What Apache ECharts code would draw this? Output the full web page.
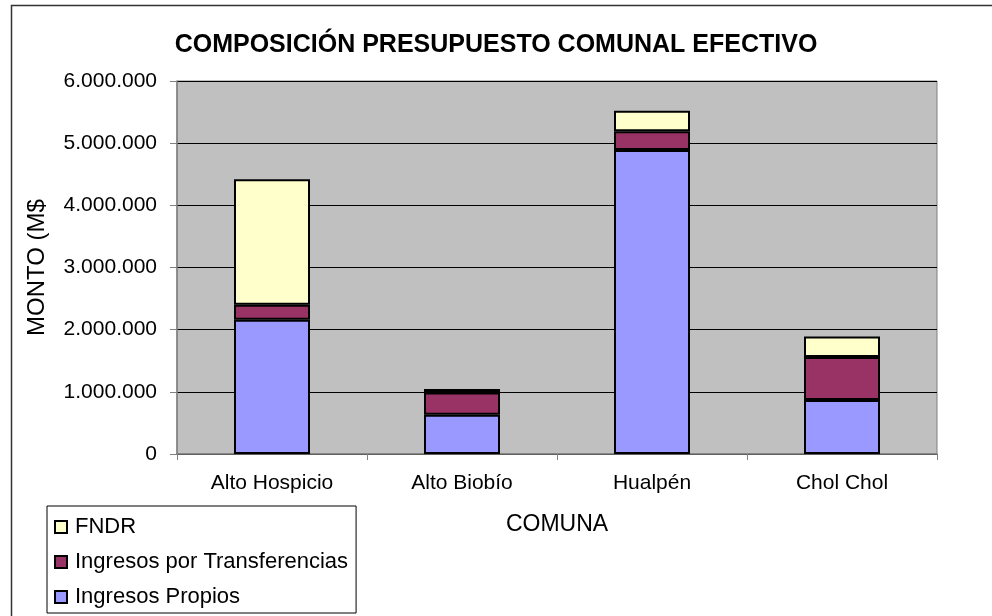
<!DOCTYPE html>
<html>
<head>
<meta charset="utf-8">
<script src="https://cdn.jsdelivr.net/npm/echarts@6/dist/echarts.min.js"></script>
<style>
  html, body { margin: 0; padding: 0; background: #fff; }
  #chart { width: 992px; height: 616px; }
</style>
</head>
<body>
<div id="chart"></div>
<script>
let comunas = ['Alto Hospicio', 'Alto Biobío', 'Hualpén', 'Chol Chol'];
let ingresosPropios = [2160000, 630000, 4890000, 870000];
let ingresosTransferencias = [240000, 360000, 300000, 690000];
let fndr = [2020000, 55000, 330000, 330000];

let chart = echarts.init(document.getElementById('chart'));

let font = 'Liberation Sans, Arial, sans-serif';

function miles(v) {
    return String(v).replace(/\B(?=(\d{3})+(?!\d))/g, '.');
}

let barStyle = function (color) {
    return { color: color, borderColor: '#000', borderWidth: 2 };
};

let option = {
    backgroundColor: '#fff',
    animation: false,
    textStyle: { fontFamily: font, color: '#000' },
    title: {
        text: 'COMPOSICIÓN PRESUPUESTO COMUNAL EFECTIVO',
        left: 'center',
        top: 28,
        textStyle: { fontSize: 25, fontWeight: 'bold', color: '#000', fontFamily: font }
    },
    graphic: [{
        type: 'rect',
        shape: { x: 11.5, y: 5.5, width: 1100, height: 700 },
        style: { fill: 'none', stroke: '#333', lineWidth: 1.5 },
        silent: true
    }],
    grid: {
        left: 177, right: 55, top: 81, bottom: 162,
        show: true, backgroundColor: '#C0C0C0', borderColor: '#808080', borderWidth: 1
    },
    legend: {
        orient: 'vertical',
        left: 47, top: 506,
        padding: [10, 8, 5, 7],
        itemGap: 13,
        itemWidth: 12, itemHeight: 12,
        icon: 'rect',
        backgroundColor: '#fff',
        borderColor: '#000', borderWidth: 1,
        textStyle: { fontSize: 22, color: '#000', fontFamily: font, padding: [0, 0, 0, 3] },
        data: [
            { name: 'FNDR', itemStyle: barStyle('#FFFFCC') },
            { name: 'Ingresos por Transferencias', itemStyle: barStyle('#993366') },
            { name: 'Ingresos Propios', itemStyle: barStyle('#9999FF') }
        ]
    },
    xAxis: {
        type: 'category',
        data: comunas,
        name: 'COMUNA',
        nameLocation: 'middle',
        nameGap: 59,
        nameTextStyle: { fontSize: 23, color: '#000', fontFamily: font },
        axisLine: { lineStyle: { color: '#808080', width: 1.5 } },
        axisTick: { show: true, length: 6, alignWithLabel: false, lineStyle: { color: '#808080' } },
        axisLabel: { fontSize: 21, color: '#000', margin: 19, fontFamily: font }
    },
    yAxis: {
        type: 'value',
        min: 0, max: 6000000, interval: 1000000,
        name: 'MONTO (M$',
        nameLocation: 'middle',
        nameGap: 128,
        nameRotate: 90,
        nameTextStyle: { fontSize: 24, color: '#000', fontFamily: font },
        axisLine: { show: true, lineStyle: { color: '#808080', width: 1.5 } },
        axisTick: { show: true, length: 7, inside: false, lineStyle: { color: '#808080' } },
        axisLabel: { fontSize: 21, color: '#000', margin: 20, fontFamily: font, formatter: miles },
        splitLine: { show: true, lineStyle: { color: '#000', width: 1 } }
    },
    series: [
        { name: 'Ingresos Propios', type: 'bar', stack: 'total', barWidth: 76, data: ingresosPropios, itemStyle: barStyle('#9999FF') },
        { name: 'Ingresos por Transferencias', type: 'bar', stack: 'total', barWidth: 76, data: ingresosTransferencias, itemStyle: barStyle('#993366') },
        { name: 'FNDR', type: 'bar', stack: 'total', barWidth: 76, data: fndr, itemStyle: barStyle('#FFFFCC') }
    ]
};

chart.setOption(option);
</script>
</body>
</html>
